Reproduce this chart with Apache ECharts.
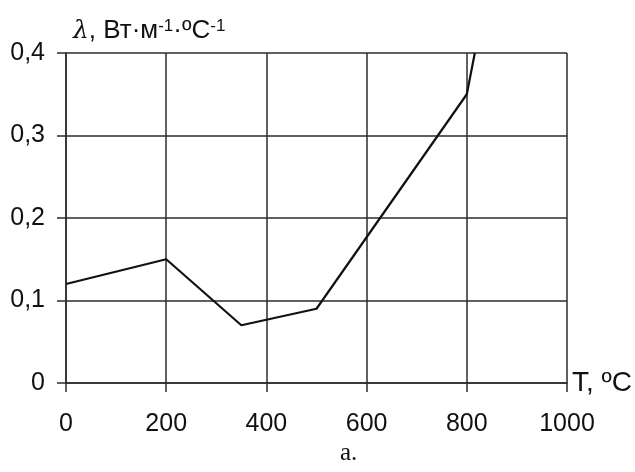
<!DOCTYPE html>
<html>
<head>
  <meta charset="utf-8">
  <style>
    html, body { width: 100%; height: 100%; margin: 0; padding: 0; overflow: hidden; background: #fff; }
    #container { width: 635px; height: 472px; }
  </style>
</head>
<body>
  <div id="container"></div>
  <script src="https://cdn.jsdelivr.net/npm/echarts@6/dist/echarts.min.js"></script>
  <script>
    // данные
    var tempPoints = [0, 200, 350, 500, 800, 816];
    var lambdaValues = [0.12, 0.15, 0.07, 0.09, 0.35, 0.40];
    var xTicks = [0, 1000, 200];     // min, max, шаг
    var yTicks = [0, 0.4, 0.1];
    var xAxisTitle = 'T, ºC';
    var caption = 'a.';

    var FONT = '"Liberation Sans", Arial, sans-serif';
    var gridColor = '#2b2b2b';

    var chart = echarts.init(document.getElementById('container'), null, { renderer: 'canvas' });

    var seriesData = tempPoints.map(function (t, i) { return [t, lambdaValues[i]]; });

    chart.setOption({
      animation: false,
      grid: { left: 66, right: 68, top: 53, bottom: 89 },
      xAxis: {
        type: 'value',
        min: xTicks[0], max: xTicks[1], interval: xTicks[2],
        name: xAxisTitle,
        nameLocation: 'end',
        nameGap: 5,
        nameTextStyle: { fontFamily: FONT, fontSize: 28, color: '#111', padding: [0, 0, 10, 0] },
        axisLine: { show: true, lineStyle: { color: gridColor, width: 1.5 } },
        axisTick: { show: true, inside: false, length: 9, lineStyle: { color: gridColor, width: 1.5 } },
        axisLabel: {
          fontFamily: FONT, fontSize: 25, color: '#111', margin: 29,
          formatter: function (v) { return String(v); }
        },
        splitLine: { show: true, lineStyle: { color: gridColor, width: 1.5 } }
      },
      yAxis: {
        type: 'value',
        min: yTicks[0], max: yTicks[1], interval: yTicks[2],
        name: '{l|λ}{n|, Вт·м}{s|-1}{n|·ºC}{s|-1}',
        nameLocation: 'end',
        nameGap: 9,
        nameTextStyle: {
          align: 'left',
          padding: [0, 0, 0, 7],
          rich: {
            l: { fontFamily: '"DejaVu Serif", serif', fontStyle: 'italic', fontSize: 25, color: '#111' },
            n: { fontFamily: FONT, fontSize: 26, color: '#111' },
            s: { fontFamily: FONT, fontSize: 17, color: '#111', verticalAlign: 'top' }
          }
        },
        axisLine: { show: true, lineStyle: { color: gridColor, width: 1.5 } },
        axisTick: { show: true, inside: false, length: 9, lineStyle: { color: gridColor, width: 1.5 } },
        axisLabel: {
          fontFamily: FONT, fontSize: 25, color: '#111', margin: 21,
          formatter: function (v) { return v === 0 ? '0' : v.toFixed(1).replace('.', ','); }
        },
        splitLine: { show: true, lineStyle: { color: gridColor, width: 1.5 } }
      },
      series: [{
        type: 'line',
        data: seriesData,
        showSymbol: false,
        clip: true,
        lineStyle: { color: '#111', width: 2.2 }
      }],
      graphic: [{
        type: 'text',
        left: 340,
        top: 441,
        style: { text: caption, font: '25px "Liberation Serif", "DejaVu Serif", serif', fill: '#111' }
      }]
    });
  </script>
</body>
</html>
